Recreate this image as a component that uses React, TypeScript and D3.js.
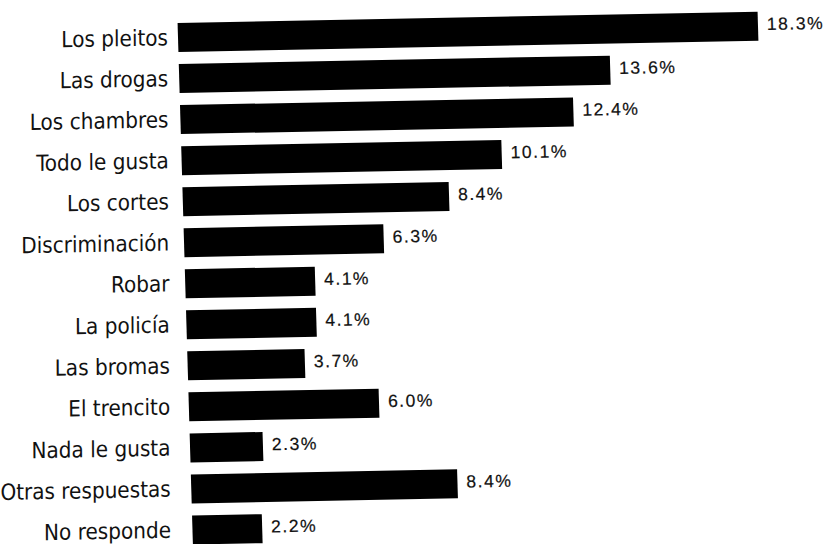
import React from "react";
import * as d3 from "d3";

const categories = [
  "Los pleitos",
  "Las drogas",
  "Los chambres",
  "Todo le gusta",
  "Los cortes",
  "Discriminación",
  "Robar",
  "La policía",
  "Las bromas",
  "El trencito",
  "Nada le gusta",
  "Otras respuestas",
  "No responde",
];
const values = [18.3, 13.6, 12.4, 10.1, 8.4, 6.3, 4.1, 4.1, 3.7, 6.0, 2.3, 8.4, 2.2];
const valueLabels = ["18.3%", "13.6%", "12.4%", "10.1%", "8.4%", "6.3%", "4.1%", "4.1%", "3.7%", "6.0%", "2.3%", "8.4%", "2.2%"];

const W = 835;
const H = 544;
const X0 = 178;
const ROW_TOP = 37.5;
const ROW_BOTTOM = 530;
const BAR_H = 29;
// scan distortion (slight shear)
const SKEW_Y = -0.0195;
const SKEW_X_BARS = 0.0294;
const SKEW_X_LABELS = 0.006;

export default function App() {
  const x = d3.scaleLinear().domain([0, 18.3]).range([X0, 758]);
  const y = d3.scalePoint<string>().domain(categories).range([ROW_TOP, ROW_BOTTOM]);

  const shear = (sx: number) =>
    `translate(${X0},${ROW_TOP}) matrix(1,${SKEW_Y},${sx},1,0,0) translate(${-X0},${-ROW_TOP})`;

  return (
    <svg
      width={W}
      height={H}
      style={{ position: "absolute", left: 0, top: 0, background: "#fff" }}
    >
      <rect x={0} y={0} width={W} height={H} fill="#fff" />
      <g transform={shear(SKEW_X_LABELS)}>
        {categories.map((c) => (
          <text
            key={c}
            x={168}
            y={(y(c) as number) + 7.5}
            textAnchor="end"
            fontFamily="'Liberation Sans Narrow', 'DejaVu Sans Condensed', 'Arial Narrow', sans-serif"
            fontStretch="condensed"
            fontSize={22.3}
            fill="#111"
          >
            {c}
          </text>
        ))}
      </g>
      <g transform={shear(SKEW_X_BARS)}>
        {categories.map((c, i) => (
          <rect
            key={c}
            x={x(0)}
            y={(y(c) as number) - BAR_H / 2}
            width={x(values[i]) - x(0)}
            height={BAR_H}
            fill="#000"
          />
        ))}
        {categories.map((c, i) => (
          <text
            key={c + "-v"}
            x={x(values[i]) + 9}
            y={(y(c) as number) + 4}
            fontFamily="'Liberation Sans', Arial, sans-serif"
            fontSize={17.5}
            letterSpacing={1.5}
            stroke="#111"
            strokeWidth={0.2}
            fill="#111"
          >
            {valueLabels[i]}
          </text>
        ))}
      </g>
    </svg>
  );
}
